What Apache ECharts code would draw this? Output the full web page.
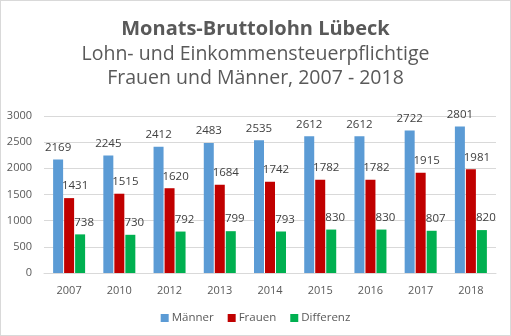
<!DOCTYPE html>
<html><head><meta charset="utf-8">
<script src="https://cdn.jsdelivr.net/npm/echarts@6/dist/echarts.min.js"></script>
<style>html,body{margin:0;padding:0;background:#fff}#c{width:511px;height:336px;box-sizing:border-box;border:1px solid #d9d9d9}</style>
</head><body><div id="c"></div>
<script>
const categories = ['2007','2010','2012','2013','2014','2015','2016','2017','2018'];
const maenner = [2169,2245,2412,2483,2535,2612,2612,2722,2801];
const frauen = [1431,1515,1620,1684,1742,1782,1782,1915,1981];
const differenz = [738,730,792,799,793,830,830,807,820];
const yTicks = [0,500,1000,1500,2000,2500,3000];

const font = '"Open Sans", "Liberation Sans", sans-serif';
const chart = echarts.init(document.getElementById('c'), null, {renderer:'canvas'});
const lbl = (dx) => ({show:true, position:'top', distance:6, offset:[dx,0], color:'#404040', fontSize:11.5, fontFamily:font});
chart.setOption({
  animation:false,
  title:{
    text:'Monats-Bruttolohn Lübeck',
    subtext:'Lohn- und Einkommensteuerpflichtige\nFrauen und Männer, 2007 - 2018',
    left:'center', top:13, itemGap:3,
    textStyle:{fontFamily:font, fontSize:20, fontWeight:'bold', color:'#595959'},
    subtextStyle:{fontFamily:font, fontSize:19.5, color:'#595959', lineHeight:24}
  },
  legend:{
    bottom:6, left:'center', itemWidth:8, itemHeight:8, itemGap:14, icon:'rect',
    textStyle:{fontFamily:font, fontSize:11.5, color:'#595959', padding:[0,0,0,-2]}
  },
  grid:{left:43, right:14, top:115, bottom:62, containLabel:false},
  xAxis:{type:'category', data:categories,
    axisLine:{lineStyle:{color:'#d9d9d9'}}, axisTick:{show:false},
    axisLabel:{fontFamily:font, fontSize:11, color:'#595959', margin:12}},
  yAxis:{type:'value', min:yTicks[0], max:yTicks[yTicks.length-1], interval:500,
    axisLine:{show:false}, axisTick:{show:false},
    splitLine:{lineStyle:{color:'#d9d9d9'}},
    axisLabel:{fontFamily:font, fontSize:11, color:'#595959', margin:12, formatter:(v)=>String(v)}},
  series:[
    {name:'Männer', type:'bar', data:maenner, barWidth:10, barGap:'10%', itemStyle:{color:'#5B9BD5'}, label:lbl(0)},
    {name:'Frauen', type:'bar', data:frauen, barWidth:10, barGap:'10%', itemStyle:{color:'#C00000'}, label:lbl(6)},
    {name:'Differenz', type:'bar', data:differenz, barWidth:10, barGap:'10%', itemStyle:{color:'#00B050'}, label:lbl(4)}
  ]
});
</script></body></html>
